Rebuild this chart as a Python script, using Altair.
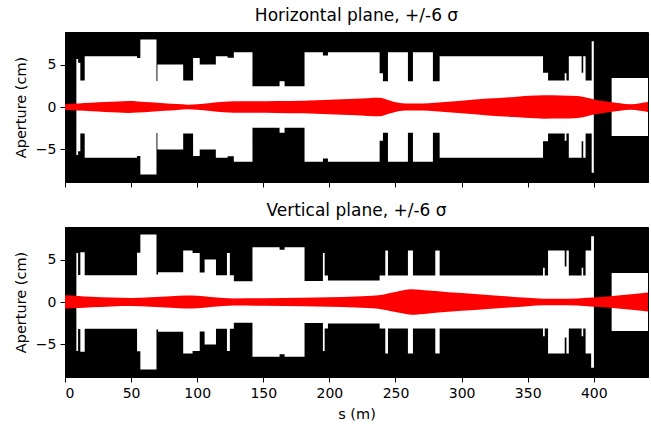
import altair as alt
import pandas as pd

# ---- Aperture profiles (segment start s in m, half-aperture in cm) ----
S_END = 441.0
h_start = [0, 8.6, 9.9, 11.6, 14.9, 54.5, 57.0, 69.2, 69.9, 89.4, 96.9, 101.9,
           114.1, 123.0, 127.7, 141.8, 162.3, 166.1, 181.2, 195.1, 198.9, 238.0,
           240.5, 244.3, 259.4, 263.2, 278.3, 283.4, 361.6, 365.4, 378.0, 379.3,
           381.1, 390.8, 392.0, 393.8, 398.4, 400.0, 413.5]
h_aper = [0, 5.7, 5.25, 3.13, 6.03, 5.8, 8.0, 3.1, 5.04, 3.13, 5.8, 5.04,
          6.03, 5.83, 6.5, 2.46, 3.05, 2.46, 6.5, 6.1, 6.5, 4.0,
          3.05, 6.5, 3.05, 6.5, 3.05, 6.03, 4.05, 3.13, 4.0, 3.13,
          6.03, 4.05, 6.03, 3.13, 7.8, 0, 3.45]

v_start = [0, 8.6, 9.9, 11.6, 14.9, 54.5, 57.0, 69.2, 70.4, 89.4, 96.5, 101.9,
           105.6, 114.2, 122.5, 124.7, 127.7, 141.8, 162.3, 166.1, 181.2, 195.1,
           196.4, 198.9, 238.0, 242.3, 244.3, 259.4, 263.2, 280.1, 283.4, 361.6,
           362.9, 365.4, 378.0, 379.3, 381.1, 390.8, 392.0, 393.8, 398.0, 400.1,
           413.5]
v_aper = [0, 5.8, 3.2, 5.9, 3.17, 5.83, 8.0, 3.25, 3.53, 6.1, 5.8, 3.5,
          5.04, 3.17, 5.8, 3.17, 2.46, 6.5, 6.2, 6.5, 2.5, 5.8,
          3.13, 2.54, 3.13, 6.1, 3.13, 6.1, 3.13, 6.1, 3.13, 4.05,
          3.13, 6.1, 4.2, 6.1, 3.13, 4.05, 3.13, 6.1, 7.8, 0,
          3.45]

# ---- Beam envelopes (+/-6 sigma half-width, cm) ----
h_beam_s = [0, 10, 20, 30, 40, 48, 55, 65, 75, 85, 93, 100, 110, 120, 128, 140,
            160, 180, 200, 220, 238, 245, 252, 258, 270, 280, 300, 320, 340, 362,
            375, 388, 395, 400, 410, 420, 428, 435, 441]
h_beam = [0.33, 0.42, 0.5, 0.58, 0.65, 0.7, 0.66, 0.55, 0.45, 0.35, 0.28, 0.33,
          0.48, 0.62, 0.67, 0.67, 0.7, 0.75, 0.85, 0.98, 1.1, 0.8, 0.5, 0.42,
          0.42, 0.5, 0.75, 1.0, 1.2, 1.38, 1.37, 1.3, 1.1, 0.9, 0.65, 0.45,
          0.33, 0.45, 0.58]

v_beam_s = [0, 10, 20, 35, 50, 65, 80, 92, 100, 110, 120, 128, 150, 180, 200,
            220, 237, 250, 262, 275, 290, 310, 330, 350, 362, 380, 395, 405, 420,
            441]
v_beam = [0.8, 0.72, 0.63, 0.52, 0.48, 0.55, 0.68, 0.78, 0.75, 0.6, 0.47, 0.42,
          0.45, 0.5, 0.56, 0.65, 0.8, 1.2, 1.5, 1.35, 1.15, 0.95, 0.72, 0.5,
          0.4, 0.38, 0.5, 0.6, 0.8, 1.13]

YMAX = 8.9
FONT = "DejaVu Sans"


def aper_df(starts, apers):
    s = list(starts) + [S_END]
    a = list(apers) + [apers[-1]]
    return pd.DataFrame({"s": s, "hi": a, "lo": [-v for v in a]})


def beam_df(ss, hw):
    return pd.DataFrame({"s": ss, "hi": hw, "lo": [-v for v in hw]})


def panel(adf, bdf, title, show_x):
    xscale = alt.Scale(domain=[0, S_END], nice=False, zero=False)
    yscale = alt.Scale(domain=[-YMAX, YMAX], nice=False, zero=False)
    xaxis = alt.Axis(values=list(range(0, 401, 50)), labels=show_x,
                     title="s (m)" if show_x else None, grid=False)
    yaxis = alt.Axis(values=[-5, 0, 5], grid=False, title="Aperture (cm)")
    white = alt.Chart(adf).mark_area(color="white", interpolate="step-after",
                                     clip=True).encode(
        x=alt.X("s:Q", scale=xscale, axis=xaxis),
        y=alt.Y("lo:Q", scale=yscale, axis=yaxis),
        y2="hi:Q",
    )
    beam = alt.Chart(bdf).mark_area(color="#ff0000", interpolate="monotone",
                                    clip=True).encode(
        x=alt.X("s:Q", scale=xscale),
        y=alt.Y("lo:Q", scale=yscale),
        y2="hi:Q",
    )
    return alt.layer(white, beam).properties(
        width=583, height=150,
        title=alt.TitleParams(title, fontSize=17, fontWeight="normal",
                              font=FONT, color="black", offset=7),
    )


top = panel(aper_df(h_start, h_aper), beam_df(h_beam_s, h_beam),
            "Horizontal plane, +/-6 σ", False)
bottom = panel(aper_df(v_start, v_aper), beam_df(v_beam_s, v_beam),
               "Vertical plane, +/-6 σ", True)

chart = alt.vconcat(top, bottom, spacing=13).properties(
    padding={"left": 12, "top": 6, "right": 1, "bottom": 4},
    background="white",
).configure_view(
    fill="black", stroke="black", strokeWidth=1
).configure_axis(
    labelFont=FONT, titleFont=FONT, labelFontSize=14, titleFontSize=14.5,
    titleFontWeight="normal", labelColor="black", titleColor="black",
    tickColor="black", domainColor="black", tickSize=5, tickWidth=1,
    labelPadding=4, titlePadding=7,
)

chart.save("out.html", embed_options={"renderer": "svg", "actions": False})
